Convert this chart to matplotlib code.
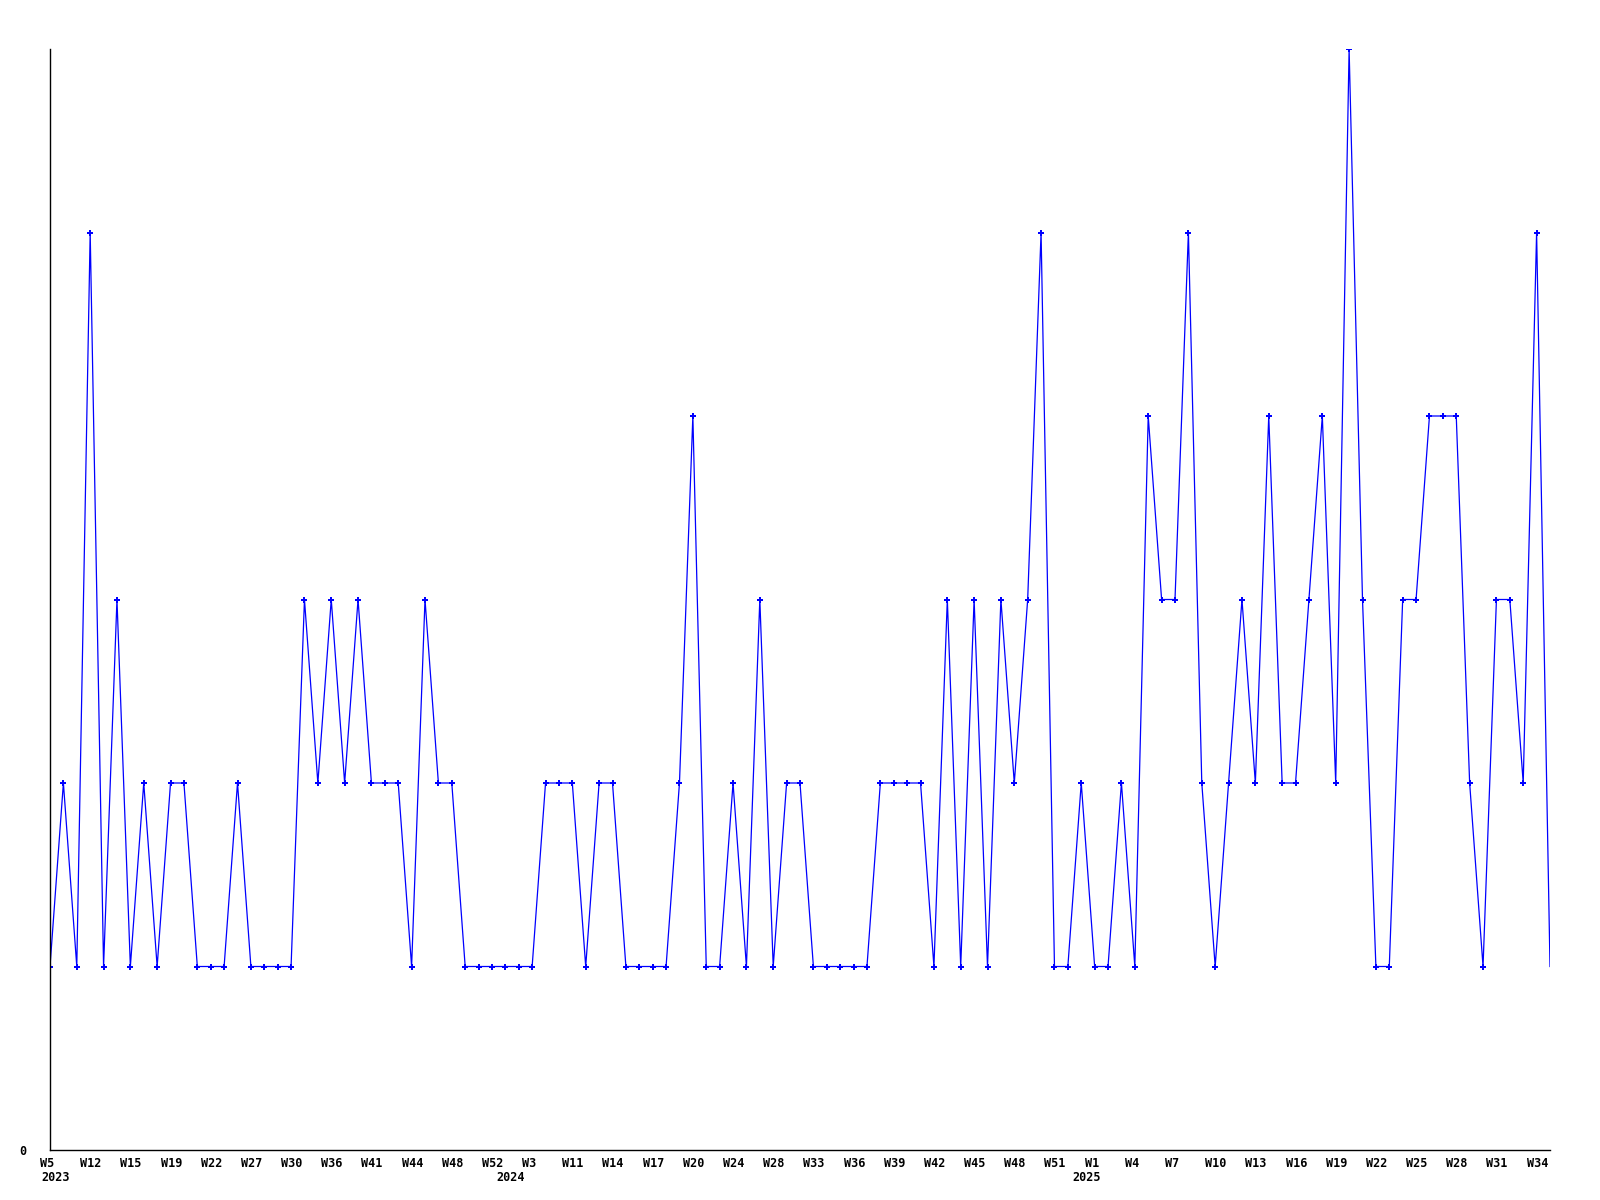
import matplotlib
matplotlib.use("Agg")
import matplotlib.pyplot as plt
import matplotlib.transforms as mtransforms

# weekly counts, one point per reported week
years = [2023] * 34 + [2024] * 43 + [2025] * 36
weeks = [5, 8, 10, 12, 13, 14, 15, 16, 18, 19, 20, 21, 22, 24, 25, 27, 28, 29,
         30, 32, 34, 36, 38, 39, 41, 42, 43, 44, 45, 47, 48, 49, 51, 52,
         1, 2, 3, 6, 9, 11, 12, 13, 14, 15, 16, 17, 18, 19, 20, 21, 23, 24,
         25, 27, 28, 30, 31, 33, 34, 35, 36, 37, 38, 39, 40, 41, 42, 43, 44,
         45, 46, 47, 48, 49, 50, 51, 52,
         0, 1, 2, 3, 4, 5, 6, 7, 8, 9, 10, 11, 12, 13, 14, 15, 16, 17, 18,
         19, 20, 21, 22, 23, 24, 25, 26, 27, 28, 29, 30, 31, 32, 33, 34, 35]
values = [1, 2, 1, 5, 1, 3, 1, 2, 1, 2, 2, 1, 1, 1, 2, 1, 1, 1, 1, 3,
          2, 3, 2, 3, 2, 2, 2, 1, 3, 2, 2, 1, 1, 1, 1, 1, 1, 2, 2, 2,
          1, 2, 2, 1, 1, 1, 1, 2, 4, 1, 1, 2, 1, 3, 1, 2, 2, 1, 1, 1,
          1, 1, 2, 2, 2, 2, 1, 3, 1, 3, 1, 3, 2, 3, 5, 1, 1, 2, 1, 1,
          2, 1, 4, 3, 3, 5, 2, 1, 2, 3, 2, 4, 2, 2, 3, 4, 2, 6, 3, 1,
          1, 3, 3, 4, 4, 4, 2, 1, 3, 3, 2, 5, 1]

labels = ["W%d" % w for w in weeks]
x = list(range(len(values)))

font = dict(family="DejaVu Sans Mono", weight="bold", size=8.5)

fig = plt.figure(figsize=(16, 12), dpi=100)
ax = fig.add_axes([50 / 1600, 50 / 1200, 1500 / 1600, 1101 / 1200])

ax.plot(x, values, color="#0000ff", linewidth=0.9, marker="P", markersize=4,
        markeredgewidth=0, markevery=list(range(len(values) - 1)))

ax.set_xlim(0, len(values) - 1)
ax.set_ylim(0, 6)

for s in ["top", "right"]:
    ax.spines[s].set_visible(False)
for s in ["left", "bottom"]:
    ax.spines[s].set_color("black")
    ax.spines[s].set_linewidth(1.0)

ax.set_yticks([0])
ax.set_yticklabels(["0"], fontdict=font)
ax.tick_params(axis="y", length=0, pad=17)

ax.set_xticks(x[::3])
ax.set_xticklabels(labels[::3], fontdict=font)
ax.tick_params(axis="x", length=0, pad=5)
shift = mtransforms.ScaledTranslation(-10 / 100, 0, fig.dpi_scale_trans)
for lab in ax.get_xticklabels():
    lab.set_ha("left")
    lab.set_transform(lab.get_transform() + shift)

# year under first week of each year
for yr in sorted(set(years)):
    i = years.index(yr)
    ax.annotate(str(yr), xy=(i, 0), xycoords=("data", "axes fraction"),
                xytext=(-9, -21), textcoords="offset pixels",
                ha="left", va="top", **font)

fig.savefig("out.png", dpi=100)
